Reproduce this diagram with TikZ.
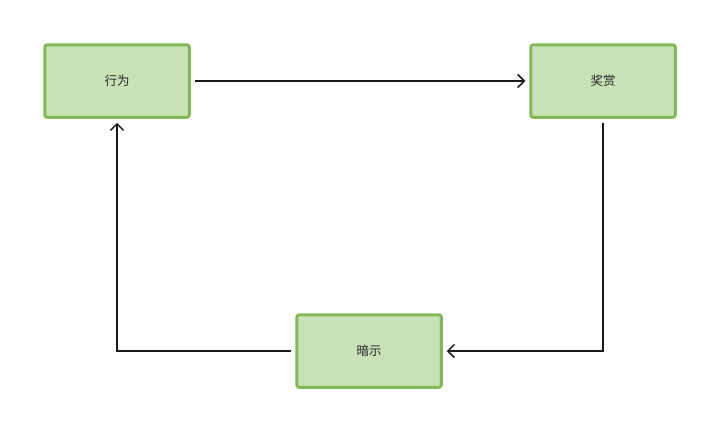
\documentclass[tikz,border=0pt]{standalone}
\usepackage{fontspec}
\newfontfamily\cjk{Noto Sans CJK SC}
\usetikzlibrary{arrows.meta}
\definecolor{boxfill}{HTML}{C9E1B7}
\definecolor{boxdraw}{HTML}{82B955}
\definecolor{linec}{HTML}{1A1A1A}
\begin{document}
\begin{tikzpicture}[x=1pt,y=-1pt,
  stepbox/.style={draw=boxdraw,fill=boxfill,line width=3pt,rounded corners=2.5pt,
    minimum width=144.5pt,minimum height=72.5pt,inner sep=0pt,font=\cjk\fontsize{12.5}{14}\selectfont,text=black!85},
  conn/.style={draw=linec,line width=1.5pt,-{Straight Barb[length=6.5pt,width=13pt,line width=1.5pt]},shorten <=4pt,shorten >=4pt}]
\useasboundingbox (0,0) rectangle (720,432);
\node[stepbox] (a) at (117,81) {行为};
\node[stepbox] (b) at (603,81) {奖赏};
\node[stepbox] (c) at (369,351) {暗示};
\draw[conn] (a.east) -- (b.west);
\draw[conn] (b.south) -- (b.south |- c.east) -- (c.east);
\draw[conn] (c.west) -- (c.west -| a.south) -- (a.south);
\end{tikzpicture}
\end{document}
